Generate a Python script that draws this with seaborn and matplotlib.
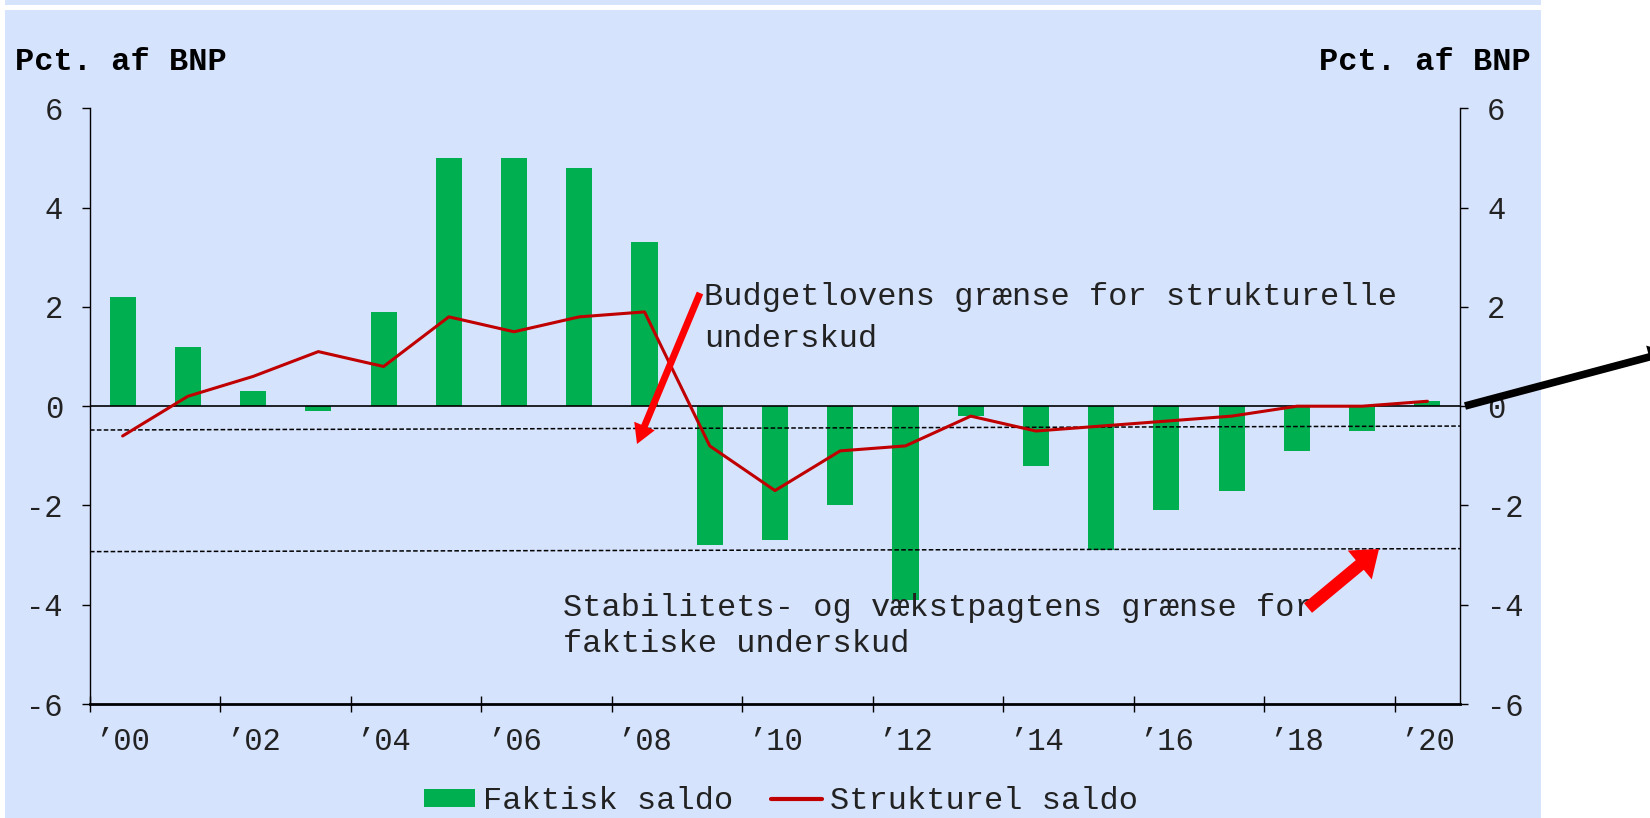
import numpy as np
import pandas as pd
import seaborn as sns
import matplotlib
matplotlib.use("Agg")
import matplotlib.pyplot as plt
from matplotlib.patches import Rectangle, FancyArrowPatch, Patch
from matplotlib.lines import Line2D

# ---------------- data ----------------
years = list(range(2000, 2021))
tick_labels = ["’00", "’02", "’04", "’06", "’08", "’10", "’12", "’14", "’16", "’18", "’20"]
faktisk_saldo = [2.2, 1.2, 0.3, -0.1, 1.9, 5.0, 5.0, 4.8, 3.3, -2.8, -2.7,
                 -2.0, -3.9, -0.2, -1.2, -2.9, -2.1, -1.7, -0.9, -0.5, 0.1]
strukturel_saldo = [-0.6, 0.2, 0.6, 1.1, 0.8, 1.8, 1.5, 1.8, 1.9, -0.8, -1.7,
                    -0.9, -0.8, -0.2, -0.5, -0.4, -0.3, -0.2, 0.0, 0.0, 0.1]
budget_limit = [-0.48, -0.40]      # Budgetlovens grænse (left end, right end)
pact_limit = [-2.93, -2.87]        # Stabilitets- og vækstpagtens grænse
y_ticks = [-6, -4, -2, 0, 2, 4, 6]

# ---------------- style ----------------
GREEN = "#00B050"
DARKRED = "#C00000"
BG = "#D6E3FD"
FONT = ["Liberation Mono", "DejaVu Sans Mono"]

sns.set_theme(style="white")
plt.rcParams["font.family"] = FONT
plt.rcParams["axes.unicode_minus"] = False

W, H = 1650, 818
fig = plt.figure(figsize=(W / 100, H / 100), dpi=100, facecolor="white")

def fx(px):
    return px / W

def fy(py):
    return 1 - py / H

# panel background
fig.patches.append(Rectangle((fx(5), 0), fx(1541) - fx(5), 1, transform=fig.transFigure,
                             facecolor=BG, edgecolor="none", zorder=-10))
fig.patches.append(Rectangle((fx(5), fy(10)), fx(1541) - fx(5), 5 / H, transform=fig.transFigure,
                             facecolor="white", edgecolor="none", zorder=-9))

ax = fig.add_axes([fx(90), fy(704), fx(1460) - fx(90), fy(108.4) - fy(704)])
ax.set_facecolor("none")

df = pd.DataFrame({"year": years, "faktisk": faktisk_saldo, "strukturel": strukturel_saldo})
df["pos"] = np.arange(len(df))

sns.barplot(data=df, x="year", y="faktisk", color=GREEN, saturation=1, width=0.4,
            ax=ax, edgecolor="none", zorder=2)
sns.lineplot(data=df, x="pos", y="strukturel", color=DARKRED, linewidth=2.2, ax=ax, zorder=4)

n = len(years)
ax.set_xlim(-0.5, n - 0.5)
ax.set_ylim(-6, 6)
ax.axhline(0, color="black", lw=1.2, zorder=3)
ax.plot([-0.5, n - 0.5], budget_limit, color="black", lw=1.1, ls=(0, (3, 1.5)), zorder=3)
ax.plot([-0.5, n - 0.5], pact_limit, color="black", lw=1.1, ls=(0, (3, 1.5)), zorder=3)

ax.set_xlabel("")
ax.set_ylabel("")
ax.set_xticks(np.arange(0, n, 2))
ax.set_xticklabels(tick_labels)
ax.set_xticks(np.arange(-0.5, n - 1, 2), minor=True)
ax.tick_params(axis="x", which="major", length=0, pad=16.5, labelsize=22, labelcolor="#222222")
ax.tick_params(axis="x", which="minor", direction="inout", length=12, width=1, color="black", bottom=True)
ax.set_yticks(y_ticks)
ax.tick_params(axis="y", direction="out", length=5.5, width=1, color="black", pad=14,
               labelsize=22, labelcolor="#222222", left=True)

for s in ["top", "right"]:
    ax.spines[s].set_visible(False)
ax.spines["left"].set_color("black")
ax.spines["left"].set_linewidth(1)
ax.spines["bottom"].set_color("black")
ax.spines["bottom"].set_linewidth(2)

ax2 = ax.twinx()
ax2.set_ylim(-6, 6)
ax2.set_yticks(y_ticks)
ax2.tick_params(axis="y", direction="out", length=5.5, width=1, color="black", pad=14,
                labelsize=22, labelcolor="#222222", right=True)
for s in ["top", "left", "bottom"]:
    ax2.spines[s].set_visible(False)
ax2.spines["right"].set_color("black")
ax2.spines["right"].set_linewidth(1)
ax2.grid(False)
ax.grid(False)

# axis unit labels
fig.text(fx(15), fy(62), "Pct. af BNP", ha="left", va="center", fontsize=23, fontweight="bold",
         color="black")
fig.text(fx(1531), fy(62), "Pct. af BNP", ha="right", va="center", fontsize=23, fontweight="bold",
         color="black")

# annotations
fig.text(fx(704), fy(318), "Budgetlovens grænse for strukturelle\nunderskud", ha="left",
         va="center", fontsize=23, color="#222222", linespacing=1.5)
fig.text(fx(563), fy(626), "Stabilitets- og vækstpagtens grænse for\nfaktiske underskud", ha="left",
         va="center", fontsize=23, color="#222222", linespacing=1.25)

def arrow(p0, p1, tail, hw, hl, color):
    a = FancyArrowPatch((fx(p0[0]), fy(p0[1])), (fx(p1[0]), fy(p1[1])),
                        transform=fig.transFigure,
                        arrowstyle=f"simple,head_length={hl},head_width={hw},tail_width={tail}",
                        mutation_scale=1, shrinkA=0, shrinkB=0, color=color, lw=0,
                        clip_on=False, zorder=6)
    fig.add_artist(a)

arrow((700, 293), (637, 444), 5, 16, 14, "#FF0000")
arrow((1308, 608), (1379, 549), 9, 27, 18, "#FF0000")
arrow((1465, 406), (1668, 352), 5.5, 17, 14, "black")

# legend
handles = [Patch(facecolor=GREEN, edgecolor="none"), Line2D([], [], color=DARKRED, lw=3)]
fig.legend(handles, ["Faktisk saldo", "Strukturel saldo"], loc="center",
           bbox_to_anchor=(fx(781), fy(801)), ncol=2, frameon=False, fontsize=23,
           handlelength=1.6, handleheight=0.5, handletextpad=0.25, columnspacing=1.2,
           labelcolor="#222222", borderpad=0.1)

fig.savefig("out.png", dpi=100, facecolor="white")
